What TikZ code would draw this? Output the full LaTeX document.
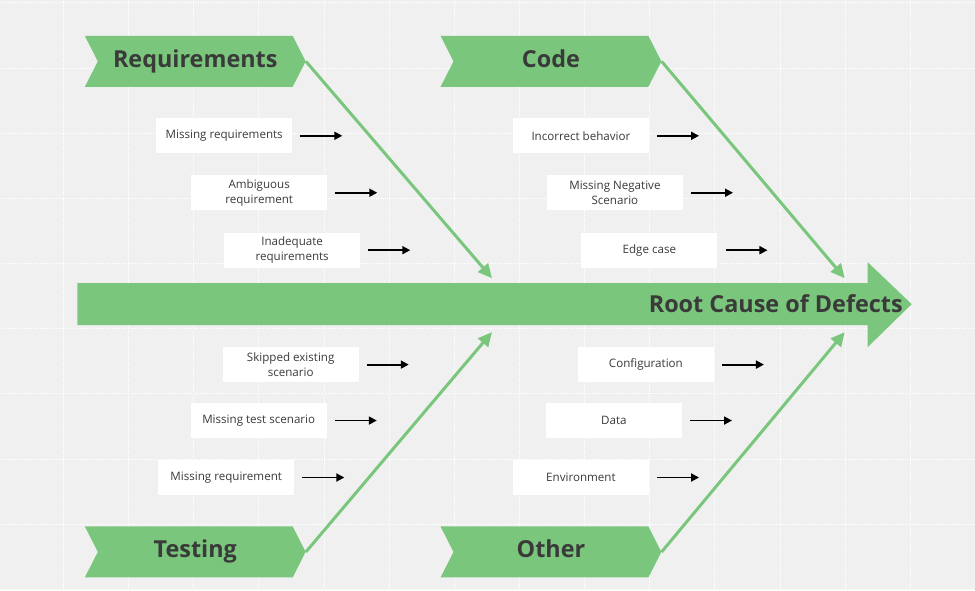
\documentclass[tikz,border=0pt]{standalone}
\usepackage{fontspec}
\setmainfont{Open Sans}
\usetikzlibrary{shapes.symbols,arrows.meta}
\definecolor{fishgreen}{RGB}{122,198,124}
\definecolor{bggray}{RGB}{240,240,240}
\definecolor{ink}{RGB}{58,58,58}
\begin{document}
\begin{tikzpicture}[x=1pt, y=-1pt,
  cat/.style={signal, signal from=west, signal to=east, signal pointer angle=126, fill=fishgreen, minimum width=221pt, minimum height=51pt, inner sep=0pt, text height=17pt, text depth=5pt, text=ink, font=\fontsize{23.4}{28}\selectfont\bfseries},
  cause/.style={fill=white, minimum width=136pt, minimum height=35pt, inner sep=0pt, align=center, text=ink, font=\fontsize{11.6}{15}\selectfont},
  bone/.style={draw=fishgreen, line width=3pt, -{Triangle[length=14pt,width=13pt]}},
  tick/.style={line width=1.8pt, -{Triangle[length=8pt,width=8pt]}}]
\fill[bggray] (0,0) rectangle (975,590);
\draw[white, densely dotted, line width=0.8pt, shift={(63,2.5)}, step=65.2pt] (-63,-2.5) grid (912,587.5);
% spine
\fill[fishgreen] (77,283) -- (868,283) -- (868,262) -- (912,304) -- (868,347) -- (868,325) -- (77,325) -- cycle;
\node[text=ink, font=\fontsize{23.4}{28}\selectfont\bfseries] (effect) at (776,304) {Root Cause of Defects};
\coordinate (j1) at (492,278);
\coordinate (j2) at (845,278);
\coordinate (j3) at (492,332);
\coordinate (j4) at (845,332);
% categories
\node[cat] (cat1) at (195,61) {Requirements};
\node[cat] (cat2) at (551,61) {Code};
\node[cat] (cat3) at (195,552) {Testing};
\node[cat] (cat4) at (551,552) {Other};
\draw[bone](cat1.east) -- (j1);
\draw[bone](cat2.east) -- (j2);
\draw[bone](cat3.east) -- (j3);
\draw[bone](cat4.east) -- (j4);
% causes
\node[cause] (c1) at (224,135.5) {Missing requirements};
\node[cause] (c2) at (259,192.5) {Ambiguous\\requirement};
\node[cause] (c3) at (292,250) {Inadequate\\requirements};
\node[cause] (c4) at (581,135.5) {Incorrect behavior};
\node[cause] (c5) at (615,192.5) {Missing Negative\\Scenario};
\node[cause] (c6) at (649.5,250) {Edge case};
\node[cause] (c7) at (290.5,364.5) {Skipped existing\\scenario};
\node[cause] (c8) at (258.5,420.5) {Missing test scenario};
\node[cause] (c9) at (226,477.5) {Missing requirement};
\node[cause] (c10) at (646,364.5) {Configuration};
\node[cause] (c11) at (614,420.5) {Data};
\node[cause] (c12) at (581,477.5) {Environment};
\draw[tick]([xshift=8pt]c1.east) -- ([xshift=50pt]c1.east);
\draw[tick]([xshift=8pt]c2.east) -- ([xshift=50pt]c2.east);
\draw[tick]([xshift=8pt]c3.east) -- ([xshift=50pt]c3.east);
\draw[tick]([xshift=8pt]c4.east) -- ([xshift=50pt]c4.east);
\draw[tick]([xshift=8pt]c5.east) -- ([xshift=50pt]c5.east);
\draw[tick]([xshift=8pt]c6.east) -- ([xshift=50pt]c6.east);
\draw[tick]([xshift=8pt]c7.east) -- ([xshift=50pt]c7.east);
\draw[tick]([xshift=8pt]c8.east) -- ([xshift=50pt]c8.east);
\draw[tick]([xshift=8pt]c9.east) -- ([xshift=50pt]c9.east);
\draw[tick]([xshift=8pt]c10.east) -- ([xshift=50pt]c10.east);
\draw[tick]([xshift=8pt]c11.east) -- ([xshift=50pt]c11.east);
\draw[tick]([xshift=8pt]c12.east) -- ([xshift=50pt]c12.east);
\end{tikzpicture}
\end{document}
